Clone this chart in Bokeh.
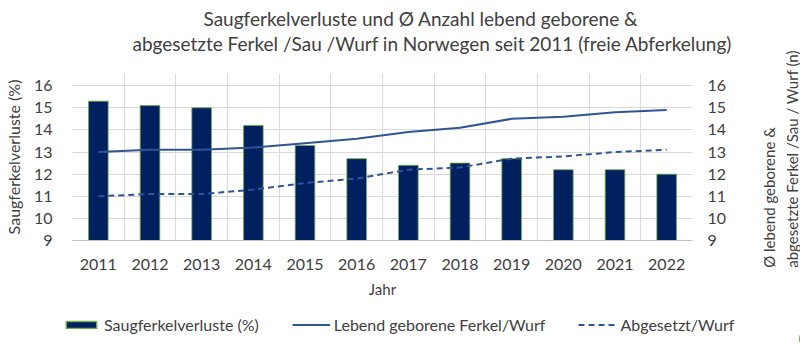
from bokeh.plotting import figure
from bokeh.layouts import row, column
from bokeh.models import (Range1d, LinearAxis, FixedTicker, Legend, LegendItem, Title)
from bokeh.embed import file_html
from bokeh.resources import INLINE

years = [2011, 2012, 2013, 2014, 2015, 2016, 2017, 2018, 2019, 2020, 2021, 2022]
verluste = [15.3, 15.1, 15.0, 14.2, 13.3, 12.7, 12.4, 12.5, 12.7, 12.2, 12.2, 12.0]
lebend = [13.0, 13.1, 13.1, 13.2, 13.4, 13.6, 13.9, 14.1, 14.5, 14.6, 14.8, 14.9]
abgesetzt = [11.0, 11.1, 11.1, 11.3, 11.6, 11.8, 12.2, 12.3, 12.7, 12.8, 13.0, 13.1]
y_ticks = [9, 10, 11, 12, 13, 14, 15, 16]

title1 = "Saugferkelverluste und Ø Anzahl lebend geborene &"
title2 = "abgesetzte Ferkel /Sau /Wurf in Norwegen seit 2011 (freie Abferkelung)"
left_label = "Saugferkelverluste (%)"
right_label = "Ø lebend geborene &\nabgesetzte  Ferkel /Sau / Wurf (n)"
x_label = "Jahr"
legend_labels = ["Saugferkelverluste (%)", "Lebend geborene Ferkel/Wurf", "Abgesetzt/Wurf"]

FONT = "Lato"
TXT = "#404040"
BAR_FILL = "#002060"
BAR_LINE = "#70AD47"
LINE_COL = "#2F5597"

MAIN_W = 761
MAIN_H = 305

p = figure(width=MAIN_W, height=MAIN_H, output_backend="svg", toolbar_location=None,
           x_range=Range1d(years[0] - 0.5, years[-1] + 0.5),
           y_range=Range1d(9, 16.55),
           min_border_left=67, min_border_right=MAIN_W - 692,
           min_border_top=73, min_border_bottom=MAIN_H - 240)
p.outline_line_color = None

p.vbar(x=years, top=verluste, bottom=9, width=0.38,
       fill_color=BAR_FILL, line_color=BAR_LINE, line_width=1, line_alpha=0.8)
p.line(years, lebend, line_color=LINE_COL, line_width=2)
p.line(years, abgesetzt, line_color=LINE_COL, line_width=2, line_dash="6 4")

xa = p.xaxis[0]
xa.ticker = FixedTicker(ticks=years)
xa.axis_line_color = "#BFBFBF"
xa.major_tick_line_color = None
xa.minor_tick_line_color = None
xa.major_label_text_font = FONT
xa.major_label_text_font_size = "16px"
xa.major_label_text_color = TXT
xa.major_label_standoff = 12
xa.axis_label = x_label
xa.axis_label_text_font = FONT
xa.axis_label_text_font_style = "normal"
xa.axis_label_text_font_size = "15px"
xa.axis_label_text_color = TXT
xa.axis_label_standoff = 7

ya = p.yaxis[0]
ya.ticker = FixedTicker(ticks=y_ticks)
ya.axis_line_color = None
ya.major_tick_line_color = None
ya.minor_tick_line_color = None
ya.major_label_text_font = FONT
ya.major_label_text_font_size = "16px"
ya.major_label_text_color = TXT
ya.major_label_standoff = 14
ya.axis_label = left_label
ya.axis_label_text_font = FONT
ya.axis_label_text_font_style = "normal"
ya.axis_label_text_font_size = "16px"
ya.axis_label_text_color = TXT
ya.axis_label_standoff = 8

ra = LinearAxis(ticker=FixedTicker(ticks=y_ticks))
ra.axis_line_color = None
ra.major_tick_line_color = None
ra.minor_tick_line_color = None
ra.major_label_text_font = FONT
ra.major_label_text_font_size = "16px"
ra.major_label_text_color = TXT
ra.major_label_standoff = 9
p.add_layout(ra, "right")

p.xgrid.ticker = FixedTicker(ticks=[y - 0.5 for y in years] + [years[-1] + 0.5])
p.xgrid.grid_line_color = "#D9D9D9"
p.ygrid.ticker = FixedTicker(ticks=y_ticks)
p.ygrid.grid_line_color = "#D9D9D9"

# chart title: spacer, second line, first line (stacked outward from the plot)
p.add_layout(Title(text=" ", text_font_size="1px", standoff=16), "above")
p.add_layout(Title(text=title2, align="left", offset=60, standoff=0,
                   text_font=FONT, text_font_size="19px", text_font_style="normal",
                   text_color=TXT), "above")
p.add_layout(Title(text=title1, align="left", offset=131, standoff=0,
                   text_font=FONT, text_font_size="19px", text_font_style="normal",
                   text_color=TXT), "above")

# strip to the right carrying the right-hand axis title (reads bottom to top)
p_r = figure(width=800 - MAIN_W, height=MAIN_H, output_backend="svg", toolbar_location=None,
             x_range=Range1d(0, 1), y_range=Range1d(0, 1),
             min_border_left=0, min_border_right=0, min_border_top=73,
             min_border_bottom=MAIN_H - 240)
p_r.axis.visible = False
p_r.grid.visible = False
p_r.outline_line_color = None
p_r.add_layout(Title(text=right_label, align="center", standoff=0,
                     text_font=FONT, text_font_size="15px", text_font_style="normal",
                     text_line_height=1.25, text_color=TXT), "left")

# legend strip along the bottom (series drawn outside its ranges: only legend entries show)
p_leg = figure(width=800, height=350 - MAIN_H, output_backend="svg", toolbar_location=None,
               x_range=Range1d(0, 800), y_range=Range1d(0, 350 - MAIN_H),
               min_border=0)
p_leg.axis.visible = False
p_leg.grid.visible = False
p_leg.outline_line_color = None
lb = p_leg.vbar(x=years, top=verluste, bottom=9, width=0.38,
                fill_color=BAR_FILL, line_color=BAR_LINE, line_width=1.5)
ll = p_leg.line(years, lebend, line_color=LINE_COL, line_width=2)
ld = p_leg.line(years, abgesetzt, line_color=LINE_COL, line_width=2, line_dash="6 4")
legend = Legend(items=[LegendItem(label=legend_labels[0], renderers=[lb]),
                       LegendItem(label=legend_labels[1], renderers=[ll]),
                       LegendItem(label=legend_labels[2], renderers=[ld])],
                location=(62, 16), orientation="horizontal",
                glyph_width=38, glyph_height=9, label_standoff=4, spacing=33,
                padding=0, margin=0, border_line_color=None, background_fill_alpha=0,
                label_text_font=FONT, label_text_font_size="16px", label_text_color=TXT)
p_leg.add_layout(legend, "center")

layout = column(row(p, p_r, spacing=0), p_leg, spacing=0)
open("out.html", "w").write(file_html(layout, INLINE))
